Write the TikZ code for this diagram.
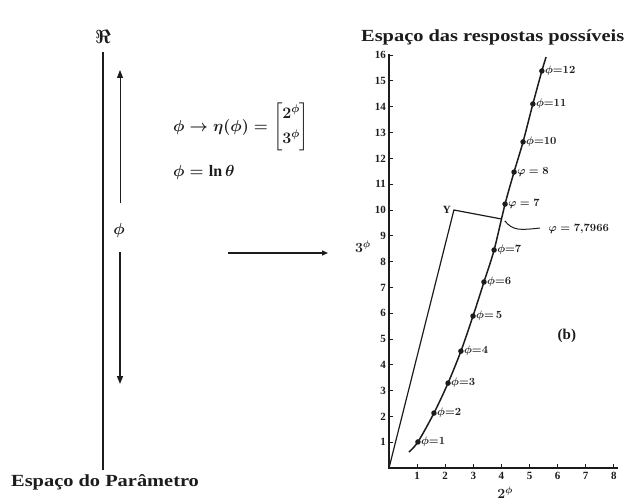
\RequirePackage{fix-cm}
\documentclass[tikz,border=0pt]{standalone}
\usepackage{amsmath,amssymb}
\usepackage{fontspec}
\setmainfont{Liberation Serif}
\newfontfamily\widefont[FakeStretch=1.2]{Liberation Serif}
\usetikzlibrary{arrows.meta,positioning}
\definecolor{inkgray}{RGB}{28,28,28}
\tikzset{
  titlebox/.style ={font=\widefont\bfseries\fontsize{17}{20}\selectfont,
                    text=inkgray, inner sep=0pt},
  formula/.style  ={font=\boldmath\fontsize{16}{19}\selectfont, text=inkgray,
                    inner sep=0pt},
  symlabel/.style ={font=\boldmath\fontsize{16}{19}\selectfont, text=inkgray,
                    inner sep=1pt},
  ticklabel/.style={font=\bfseries\fontsize{11}{13}\selectfont,
                    text=inkgray, inner sep=1pt},
  ptlabel/.style  ={font=\boldmath\bfseries\fontsize{11}{13}\selectfont,
                    text=inkgray, inner sep=1pt},
  axlabel/.style  ={font=\boldmath\fontsize{14}{16}\selectfont,
                    text=inkgray, inner sep=1pt},
  dotmark/.style  ={circle, fill=inkgray, inner sep=0pt, minimum size=5.5pt},
  pline/.style    ={draw=inkgray, line width=1.5pt},
  uarr/.style     ={draw=inkgray, line width=0.9pt,
                    -{Triangle[length=8pt,width=6pt]}},
  darr/.style     ={draw=inkgray, line width=1.5pt,
                    -{Triangle[length=8pt,width=6pt]}},
  harr/.style     ={draw=inkgray, line width=1.3pt,
                    -{Triangle[length=6pt,width=5pt]}},
  axis/.style     ={draw=inkgray, line width=1.8pt},
  tick/.style     ={draw=inkgray, line width=1pt},
  curveline/.style={draw=inkgray, line width=1.5pt},
  yline/.style    ={draw=inkgray, line width=1.2pt},
  leader/.style   ={draw=inkgray, line width=1pt},
}
\begin{document}
\begin{tikzpicture}[x=1pt,y=-1pt]
  \useasboundingbox (0,0) rectangle (632,503);
  %% parameter space
  \node[symlabel, font=\boldmath\fontsize{19}{22}\selectfont] (re) at (103,37) {$\Re$};
  \coordinate (ptop) at (103,52);
  \coordinate (pbot) at (103,470);
  \draw[pline] (ptop) -- (pbot);
  \node[symlabel] (phi) at (119,230) {$\phi$};
  \coordinate (upbase) at (120,203);
  \coordinate (uptip)  at (120,70);
  \coordinate (dnbase) at (120,252);
  \coordinate (dntip)  at (120,384);
  \draw[uarr] (upbase) -- (uptip);
  \draw[darr] (dnbase) -- (dntip);
  \node[titlebox, anchor=west] (ptitle) at (11,482) {Espaço do Parâmetro};
  %% the map
  \node[formula, anchor=west] (eta) at (173,127)
    {$\phi\rightarrow\boldsymbol{\eta}(\phi)=\begin{bmatrix}2^{\phi}\\[5pt]3^{\phi}\end{bmatrix}$};
  \node[formula, anchor=west] (lnt) at (173,172) {$\phi=\ln\theta$};
  \coordinate (mapfrom) at (228,253);
  \coordinate (mapto)   at (328,253);
  \draw[harr] (mapfrom) -- (mapto);
  %% response space
  \node[titlebox, anchor=west] (rtitle) at (361,37) {Espaço das respostas possíveis};
  \begin{scope}[shift={(389,468)}, x=28.1pt, y=25.8pt]
    \coordinate (o) at (0,0);
    \coordinate (ytop) at (0,16.05);
    \coordinate (xend) at (8.15,0);
    \draw[axis] (ytop) -- (o) -- (xend);
    \foreach \k in {1,...,16}{
      \draw[tick] (0,\k) -- ++(4pt,0);
      \node[ticklabel, left=2pt] (yl\k) at (0,\k) {\k};
    }
    \foreach \k in {1,...,8}{
      \draw[tick] (\k,0) -- ++(0,4pt);
      \node[ticklabel, below=3pt] (xl\k) at (\k,0) {\k};
    }
    \node[axlabel] (ylabel) at (-0.93,8.57) {$3^{\phi}$};
    \node[axlabel] (xlabel) at (4.13,-0.97) {$2^{\phi}$};
    %% points of the curve
    \coordinate (c0) at (0.71,0.62);
    \coordinate (c1) at (5.59,15.93);
    \foreach \nm/\px/\py/\lab in {p1/1.03/1.01/{$\phi{=}1$}, p2/1.60/2.13/{$\phi{=}2$},
        p3/2.10/3.29/{$\phi{=}3$}, p4/2.56/4.53/{$\phi{=}4$}, p5/2.99/5.89/{$\phi{=}\,5$},
        p6/3.38/7.21/{$\phi{=}6$}, p7/3.74/8.45/{$\phi{=}7$}, q7/4.13/10.23/{$\varphi=7$},
        p8/4.45/11.47/{$\varphi=8$}, p10/4.77/12.64/{$\phi{=}10$},
        p11/5.12/14.11/{$\phi{=}11$}, p12/5.44/15.39/{$\phi{=}12$}}{
      \node[dotmark] (\nm) at (\px,\py) {};
      \node[ptlabel, right=2pt] (\nm-l) at (\nm) {\lab};
    }
    \draw[curveline] plot[smooth, tension=0.5] coordinates
      {(c0) (p1) (p2) (p3) (p4) (p5) (p6) (p7) (q7) (p8) (p10) (p11) (p12) (c1)};
    %% line to Y and the hit on the curve
    \coordinate (ycorner) at (2.31,10.0);
    \coordinate (hit) at (4.01,9.65);
    \draw[yline] (o) -- (ycorner) -- (hit);
    \node[ptlabel, left=2pt] (ylab) at (ycorner) {Y};
    \coordinate (lead0) at (4.12,9.58);
    \coordinate (lead1) at (5.37,9.30);
    \draw[leader] (lead0) .. controls (4.41,9.19) and (4.66,9.22) .. (lead1);
    \node[ptlabel, anchor=west] (hitlab) at (5.64,9.26) {$\varphi=7{,}7966$};
    \node[ptlabel, font=\bfseries\fontsize{15}{17}\selectfont] (blab) at (6.33,5.12) {(b)};
  \end{scope}
\end{tikzpicture}
\end{document}
